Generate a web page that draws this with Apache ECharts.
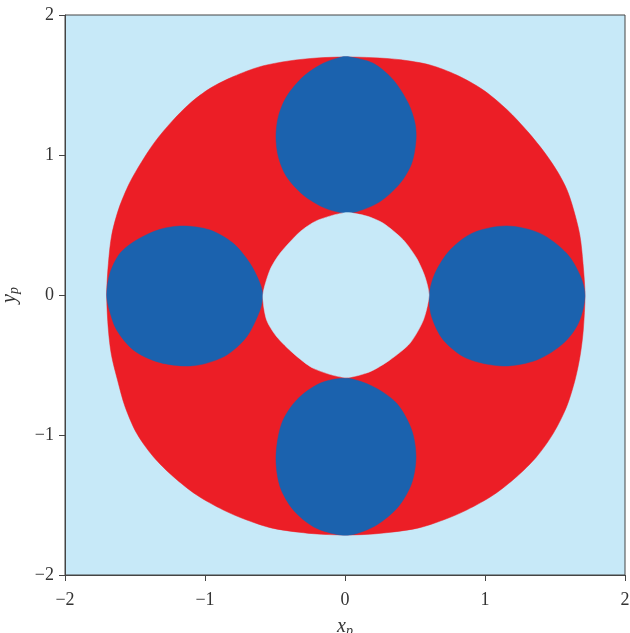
<!DOCTYPE html>
<html>
<head>
<meta charset="utf-8">
<script src="https://cdn.jsdelivr.net/npm/echarts@6/dist/echarts.min.js"></script>
<style>
  html, body { margin: 0; padding: 0; background: #fff; }
  #chart { width: 630px; height: 633px; }
</style>
</head>
<body>
<div id="chart"></div>
<script>
// boundary points, [xp, yp]
var outerRegion = [
  [0, 1.70], [-0.2, 1.693], [-0.4, 1.672], [-0.607, 1.631], [-0.798, 1.56],
  [-0.964, 1.476], [-1.107, 1.369], [-1.238, 1.238], [-1.357, 1.095], [-1.452, 0.952],
  [-1.54, 0.798], [-1.615, 0.619], [-1.666, 0.43], [-1.69, 0.226], [-1.702, 0],
  [-1.69, -0.25], [-1.668, -0.43], [-1.625, -0.607], [-1.571, -0.798], [-1.488, -0.988],
  [-1.369, -1.155], [-1.226, -1.298], [-1.059, -1.429], [-0.869, -1.536], [-0.702, -1.607],
  [-0.512, -1.667], [-0.226, -1.705], [0.012, -1.714], [0.226, -1.705], [0.512, -1.667],
  [0.702, -1.607], [0.869, -1.536], [1.059, -1.429], [1.226, -1.298], [1.369, -1.155],
  [1.488, -0.988], [1.583, -0.798], [1.643, -0.607], [1.68, -0.43], [1.702, -0.25],
  [1.714, 0], [1.700, 0.226], [1.677, 0.43], [1.630, 0.619], [1.586, 0.75],
  [1.525, 0.869], [1.430, 1.012], [1.305, 1.167], [1.160, 1.321], [0.988, 1.464],
  [0.798, 1.571], [0.607, 1.643], [0.4, 1.68], [0.2, 1.695]
];
var topDisk = [
  [-0.024, 1.70], [-0.155, 1.655], [-0.298, 1.56], [-0.417, 1.417], [-0.476, 1.274],
  [-0.493, 1.131], [-0.476, 0.988], [-0.417, 0.845], [-0.298, 0.714], [-0.155, 0.626],
  [-0.024, 0.588], [0.083, 0.595], [0.25, 0.667], [0.393, 0.798], [0.476, 0.94],
  [0.507, 1.107], [0.5, 1.226], [0.452, 1.369], [0.345, 1.536], [0.202, 1.655], [0.036, 1.70]
];
var leftDisk = [
  [-1.702, 0], [-1.679, 0.155], [-1.607, 0.298], [-1.488, 0.393], [-1.321, 0.469],
  [-1.155, 0.493], [-0.964, 0.464], [-0.798, 0.369], [-0.679, 0.226], [-0.607, 0.083],
  [-0.588, 0], [-0.607, -0.107], [-0.702, -0.298], [-0.845, -0.429], [-1.012, -0.493],
  [-1.155, -0.507], [-1.345, -0.476], [-1.512, -0.393], [-1.631, -0.25], [-1.683, -0.107]
];
var rightDisk = [
  [0.602, 0], [0.643, 0.155], [0.75, 0.321], [0.917, 0.445], [1.155, 0.493],
  [1.393, 0.44], [1.583, 0.298], [1.683, 0.131], [1.714, -0.01], [1.667, -0.202],
  [1.56, -0.345], [1.369, -0.464], [1.131, -0.507], [0.869, -0.452], [0.702, -0.321],
  [0.619, -0.155]
];
var bottomDisk = [
  [0.012, -0.595], [-0.179, -0.631], [-0.345, -0.75], [-0.452, -0.917], [-0.493, -1.155],
  [-0.464, -1.369], [-0.369, -1.536], [-0.226, -1.655], [-0.06, -1.71], [0.06, -1.71],
  [0.226, -1.643], [0.381, -1.512], [0.476, -1.345], [0.507, -1.155], [0.476, -0.964],
  [0.369, -0.774], [0.202, -0.655]
];
var centralHole = [
  [0, 0.588], [-0.202, 0.531], [-0.321, 0.452], [-0.464, 0.298], [-0.536, 0.179],
  [-0.586, 0], [-0.56, -0.179], [-0.488, -0.298], [-0.369, -0.417], [-0.226, -0.524],
  [0, -0.59], [0.179, -0.548], [0.321, -0.464], [0.464, -0.345], [0.56, -0.179],
  [0.6, 0], [0.571, 0.131], [0.512, 0.262], [0.417, 0.393], [0.274, 0.512], [0.155, 0.564]
];
var axisTicks = [-2, -1, 0, 1, 2];

var paleBlue = '#c7e9f8';
var red = '#ec1e26';
var blue = '#1b62ae';

function region(points, color, smooth) {
  return {
    type: 'custom',
    coordinateSystem: 'cartesian2d',
    silent: true,
    data: [[points[0][0], points[0][1]]],
    renderItem: function (params, api) {
      var pts = points.map(function (p) { return api.coord(p); });
      return {
        type: 'polygon',
        shape: { points: pts, smooth: smooth },
        style: { fill: color, stroke: color, lineWidth: 0.5 }
      };
    }
  };
}

var chart = echarts.init(document.getElementById('chart'));
var serif = 'Liberation Serif';
var axisText = { fontFamily: serif, fontSize: 18, color: '#333' };
var nameRich = {
  v: { fontFamily: serif, fontStyle: 'italic', fontSize: 20, color: '#333' },
  s: { fontFamily: serif, fontStyle: 'italic', fontSize: 14, color: '#333', padding: [8, 0, 0, 0] }
};
function minusLabel(v) { return String(v).replace('-', '\u2212'); }

chart.setOption({
  animation: false,
  grid: {
    left: 65, right: 5, top: 15, bottom: 58,
    outerBoundsMode: 'none', containLabel: false,
    show: true, backgroundColor: paleBlue, borderColor: '#444', borderWidth: 1
  },
  xAxis: {
    type: 'value', min: axisTicks[0], max: axisTicks[axisTicks.length - 1], interval: 1,
    name: '{v|x}{s|p}', nameLocation: 'middle', nameGap: 41,
    nameTextStyle: { rich: nameRich },
    axisLine: { onZero: false, lineStyle: { color: '#444', width: 1 } },
    axisTick: { inside: false, length: 6, lineStyle: { color: '#444' } },
    axisLabel: Object.assign({ margin: 16, formatter: minusLabel }, axisText),
    splitLine: { show: false }
  },
  yAxis: {
    type: 'value', min: axisTicks[0], max: axisTicks[axisTicks.length - 1], interval: 1,
    name: '{v|y}{s|p}', nameLocation: 'middle', nameGap: 44,
    nameTextStyle: { rich: nameRich },
    axisLine: { onZero: false, lineStyle: { color: '#444', width: 1 } },
    axisTick: { inside: false, length: 6, lineStyle: { color: '#444' } },
    axisLabel: Object.assign({ margin: 11, formatter: minusLabel }, axisText),
    splitLine: { show: false }
  },
  series: [
    region(outerRegion, red, 0.3),
    region(topDisk, blue, 0.3),
    region(leftDisk, blue, 0.3),
    region(rightDisk, blue, 0.3),
    region(bottomDisk, blue, 0.3),
    region(centralHole, paleBlue, 0.25)
  ]
});
</script>
</body>
</html>
